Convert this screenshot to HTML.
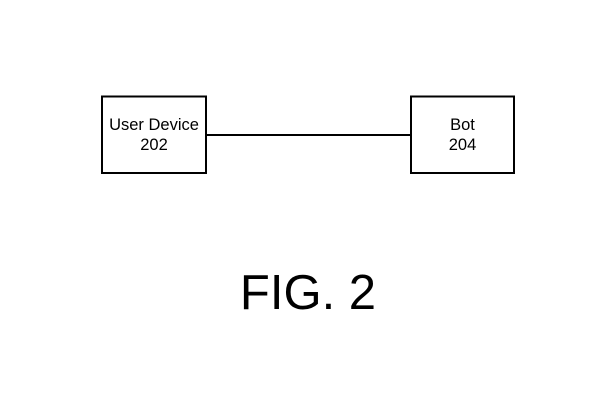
<!DOCTYPE html>
<html><head><style>
html,body{margin:0;padding:0;background:#fff;width:605px;height:402px;overflow:hidden}
</style></head><body>
<svg width="605" height="402" xmlns="http://www.w3.org/2000/svg" font-family="Liberation Sans, Arial, sans-serif">
<rect x="102" y="96.5" width="104" height="76.5" fill="none" stroke="#000" stroke-width="2"/>
<rect x="411" y="96.5" width="103" height="76.5" fill="none" stroke="#000" stroke-width="2"/>
<line x1="206" y1="135" x2="411" y2="135" stroke="#000" stroke-width="2"/>
<text x="154" y="130" font-size="16.5" text-anchor="middle">User Device</text>
<text x="154" y="150" font-size="16.5" text-anchor="middle">202</text>
<text x="462.5" y="130" font-size="16.5" text-anchor="middle">Bot</text>
<text x="462.5" y="150" font-size="16.5" text-anchor="middle">204</text>
<text x="308" y="309" font-size="49" text-anchor="middle">FIG. 2</text>
</svg>
</body></html>
